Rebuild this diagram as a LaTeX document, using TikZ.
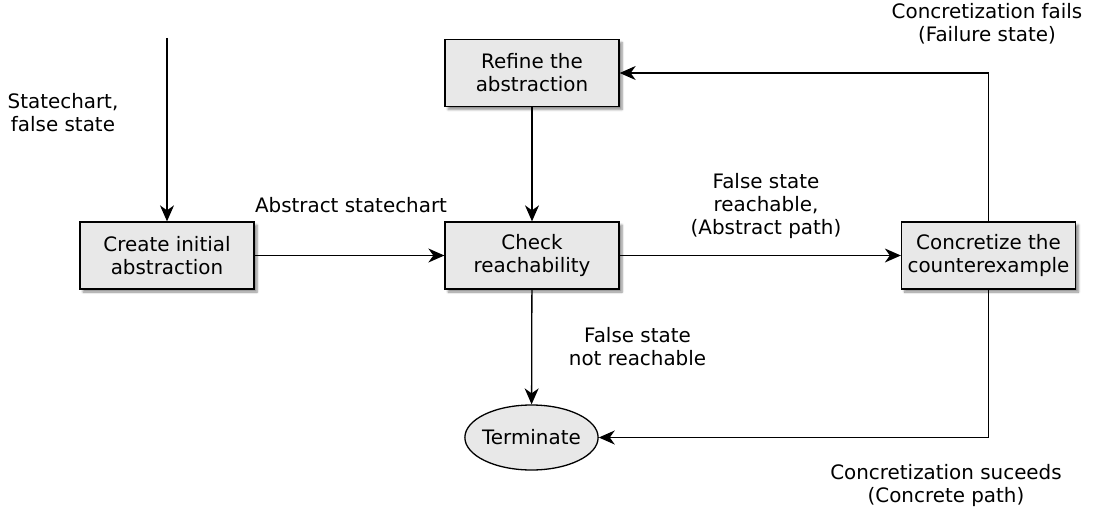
\documentclass[tikz,border=0pt]{standalone}
\usepackage{fontspec}
\setmainfont{DejaVu Sans}
\usetikzlibrary{arrows.meta,shapes.geometric,shadows.blur}
\definecolor{boxfill}{HTML}{E8E8E8}
\begin{document}
\begin{tikzpicture}[x=1pt,y=-1pt,
  every node/.style={font=\fontsize{19.9}{23}\selectfont, align=center, inner sep=0pt},
  procbox/.style={draw=black, line width=1.3pt, fill=boxfill, minimum width=174pt, minimum height=67pt,
    blur shadow={shadow xshift=3pt, shadow yshift=-3pt, shadow blur steps=6, shadow opacity=45}},
  endshape/.style={draw=black, line width=1.3pt, fill=boxfill, ellipse, inner xsep=-2.2pt, minimum height=65pt},
  conn/.style={line width=1.3pt, -{Stealth[length=16pt,width=14pt,inset=5pt]}},
  lbl/.style={}
]
\useasboundingbox (0,0) rectangle (1094,516);
\node[procbox] (create) at (167,255.5) {Create initial\\abstraction};
\node[procbox] (check) at (532,255.5) {Check\\reachability};
\node[procbox] (refine) at (532,73) {Refine the\\abstraction};
\node[procbox] (concr) at (988.5,255.5) {Concretize the\\counterexample};
\node[endshape] (term) at (531.5,437.5) {Terminate};
\coordinate (in) at (167,38);
\coordinate (c1) at (988.5,73);
\coordinate (c2) at (988.5,437.5);

\draw[conn] (in) -- (create);
\draw[conn] (create) -- (check);
\draw[conn] (refine) -- (check);
\draw[conn] (check) -- (concr);
\draw[conn] (check) -- (term);
\draw[conn] (concr.north) -- (c1) -- (refine.east);
\draw[conn] (concr.south) -- (c2) -- (term.east);

\node[lbl] (l1) at (63,113) {Statechart,\\false state};
\node[lbl] (l2) at (351,205) {Abstract statechart};
\node[lbl] (l3) at (766,206) {False state\\reachable,\\(Abstract path)};
\node[lbl] (l4) at (637.5,347) {False state\\not reachable};
\node[lbl] (l5) at (987,24) {Concretization fails\\(Failure state)};
\node[lbl] (l6) at (946,486) {Concretization suceeds\\(Concrete path)};
\end{tikzpicture}
\end{document}
